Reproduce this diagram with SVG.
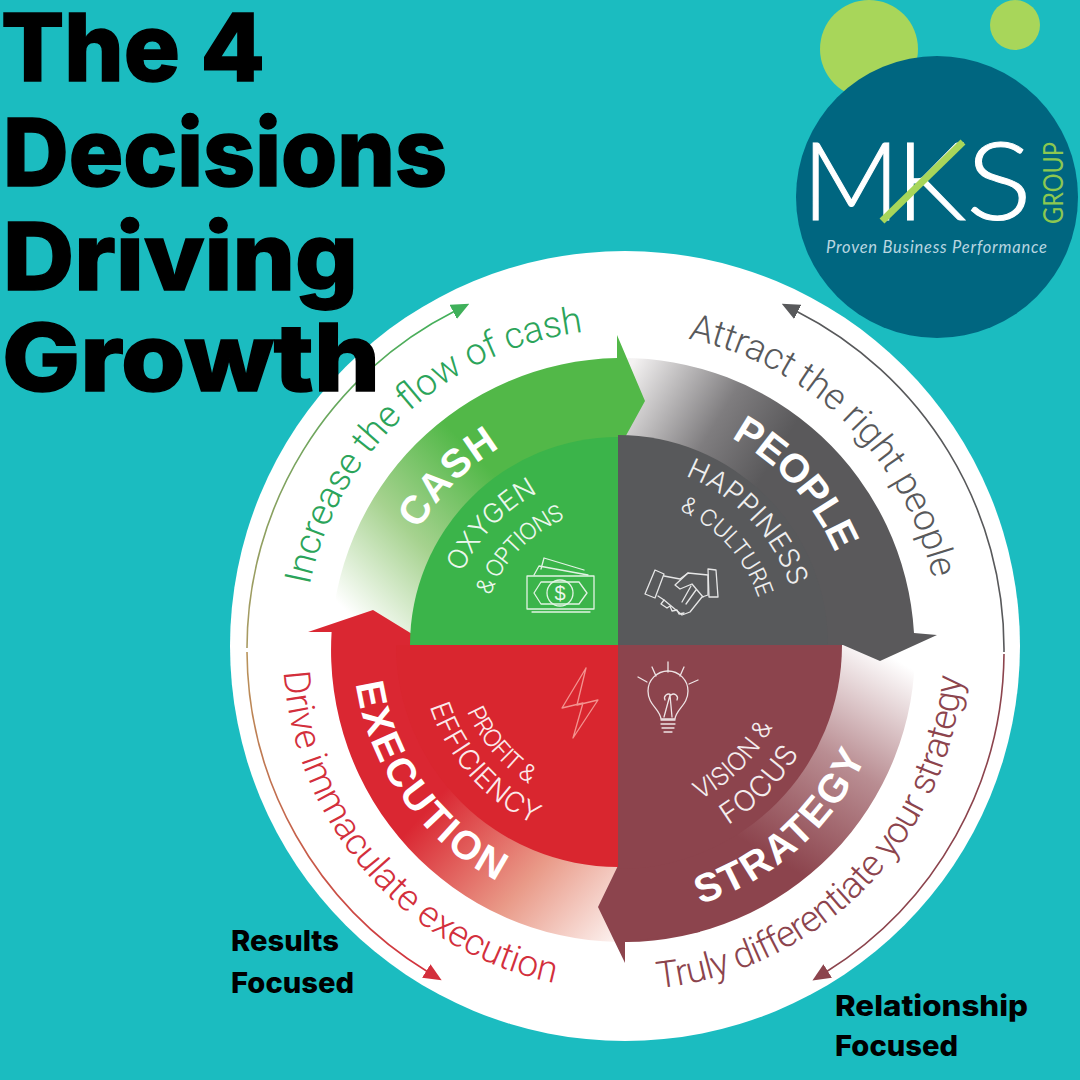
<svg xmlns="http://www.w3.org/2000/svg" width="1080" height="1080" viewBox="0 0 1080 1080">
<style>
.title{font-family:"Inter","Liberation Sans",sans-serif;font-weight:800;font-size:94px;fill:#000;stroke:#000;stroke-width:1.5}
.note{font-family:"Inter","Liberation Sans",sans-serif;font-weight:800;font-size:29px;fill:#000}
.out{font-family:"Roboto","Liberation Sans",sans-serif;font-weight:300;font-size:37px}
.head{font-family:"Liberation Sans",sans-serif;font-weight:700;font-size:40px;fill:#fff}
.sub{font-family:"Inter","Liberation Sans",sans-serif;font-weight:300;fill:#fff;opacity:.9}
.ico{fill:none;stroke:#fff;stroke-width:1.3;stroke-linecap:round;stroke-linejoin:round;opacity:.85}
.thin{fill:none;stroke-width:1.6}
.mks{font-family:"Lato","Liberation Sans",sans-serif;font-weight:300;font-size:108px;fill:#fff;stroke:#fff;stroke-width:1}
</style>
<defs>
<linearGradient id="gCash" gradientUnits="userSpaceOnUse" x1="345" y1="610" x2="490" y2="470"><stop offset="0" stop-color="#fff"/><stop offset=".5" stop-color="#a6d28f"/><stop offset="1" stop-color="#52b848"/></linearGradient>
<linearGradient id="gPeople" gradientUnits="userSpaceOnUse" x1="625" y1="375" x2="770" y2="465"><stop offset="0" stop-color="#f4f2f2"/><stop offset=".6" stop-color="#7f7d7f"/><stop offset="1" stop-color="#5a595b"/></linearGradient>
<linearGradient id="gStrategy" gradientUnits="userSpaceOnUse" x1="880" y1="650" x2="760" y2="850"><stop offset="0" stop-color="#fff"/><stop offset=".5" stop-color="#b98d92"/><stop offset="1" stop-color="#8c444d"/></linearGradient>
<linearGradient id="gExec" gradientUnits="userSpaceOnUse" x1="625" y1="955" x2="445" y2="790"><stop offset="0" stop-color="#fff"/><stop offset=".5" stop-color="#e99a88"/><stop offset="1" stop-color="#da2732"/></linearGradient>
<linearGradient id="lGreen" gradientUnits="userSpaceOnUse" x1="250" y1="640" x2="460" y2="310"><stop offset="0" stop-color="#a89a62"/><stop offset="1" stop-color="#3fb05a"/></linearGradient>
<linearGradient id="lRed" gradientUnits="userSpaceOnUse" x1="250" y1="650" x2="430" y2="975"><stop offset="0" stop-color="#b8945a"/><stop offset="1" stop-color="#d32f3c"/></linearGradient>
<marker id="mGreen" markerUnits="userSpaceOnUse" markerWidth="18" markerHeight="16" refX="2" refY="8" orient="auto"><path d="M0 0L18 8L0 16Z" fill="#3fb05a"/></marker>
<marker id="mGrey" markerUnits="userSpaceOnUse" markerWidth="18" markerHeight="16" refX="2" refY="8" orient="auto"><path d="M0 0L18 8L0 16Z" fill="#58595b"/></marker>
<marker id="mMaroon" markerUnits="userSpaceOnUse" markerWidth="18" markerHeight="16" refX="2" refY="8" orient="auto"><path d="M0 0L18 8L0 16Z" fill="#8c444d"/></marker>
<marker id="mRed" markerUnits="userSpaceOnUse" markerWidth="18" markerHeight="16" refX="2" refY="8" orient="auto"><path d="M0 0L18 8L0 16Z" fill="#d32f3c"/></marker>
<path id="pInc" d="M309.6 585.5A320 320 0 0 1 584 332"/>
<path id="pAtt" d="M687.9 338.7A318 318 0 0 1 933.1 579.8"/>
<path id="pTru" d="M658 988.2A340 340 0 0 0 962 676.7"/>
<path id="pDri" d="M283.7 671.9A340 340 0 0 0 555.2 983.2"/>
<path id="pCash" d="M418.8 530A230 230 0 0 1 501.3 446.8"/>
<path id="pOxy" d="M462 572.6A172 172 0 0 1 539.1 492.2"/>
<path id="pOpt" d="M490.1 595.9A137 137 0 0 1 566.7 518"/>
<path id="pPeo" d="M731 437.8A236 236 0 0 1 835.7 553.9"/>
<path id="pHap" d="M685.3 475.9A182 182 0 0 1 791 588.5"/>
<path id="pCul" d="M679.1 510.2A148 148 0 0 1 758.9 599.8"/>
<path id="pStr" d="M700.2 904.3A272 272 0 0 0 866.3 756"/>
<path id="pVis" d="M699.6 799.8A175 175 0 0 0 773.1 726.1"/>
<path id="pFoc" d="M727.9 825.1A211 211 0 0 0 799.4 752.7"/>
<path id="pExe" d="M355.8 683.7A265 265 0 0 0 498.5 881.5"/>
<path id="pPro" d="M466.9 711.3A165 165 0 0 0 529.6 784.3"/>
<path id="pEff" d="M429.7 706.2A198 198 0 0 0 534.6 824.6"/>
</defs>
<rect width="1080" height="1080" fill="#1bbcc0"/>
<g id="dots"><circle cx="869" cy="49" r="49" fill="#a8d65a"/><circle cx="1015" cy="25" r="25" fill="#a8d65a"/></g>
<circle id="disc" cx="625" cy="646" r="395" fill="#fff"/>

<g id="logo">
<circle cx="937" cy="197" r="141" fill="#006680"/>
<text class="mks" x="802" y="220" textLength="98" lengthAdjust="spacingAndGlyphs">M</text>
<text class="mks" x="896" y="220" textLength="70" lengthAdjust="spacingAndGlyphs">K</text>
<text class="mks" x="966" y="220" textLength="66" lengthAdjust="spacingAndGlyphs">S</text>
<path d="M882 221L963 142" stroke="#a8d65a" stroke-width="7" fill="none"/>
<text transform="translate(1063 224) rotate(-90)" font-family="Lato,'Liberation Sans',sans-serif" font-size="26" fill="#8cc850" textLength="82" lengthAdjust="spacingAndGlyphs">GROUP</text>
<text x="826" y="253" font-family="Lato,'Liberation Sans',sans-serif" font-style="italic" font-size="16.5" fill="#b9d6e0" textLength="221">Proven Business Performance</text>
</g>

<g id="connectors">
<path class="thin" stroke="url(#lGreen)" marker-end="url(#mGreen)" d="M247 648A378 378 0 0 1 455 311"/>
<path class="thin" stroke="#58595b" marker-end="url(#mGrey)" d="M1004 652A379 379 0 0 0 796 311"/>
<path class="thin" stroke="#8c444d" marker-end="url(#mMaroon)" d="M1004 654A379 379 0 0 1 826 972"/>
<path class="thin" stroke="url(#lRed)" marker-end="url(#mRed)" d="M247 652A378 378 0 0 0 428 972"/>
</g>

<g id="strategy-band"><path fill="url(#gStrategy)" d="M843 645H915A292 292 0 0 1 625 942L625 900L628 845L628 645Z"/></g>
<g id="people-band"><path fill="url(#gPeople)" d="M618 358A292 292 0 0 1 914 633L937 635L880 661L843 645H618Z"/></g>
<g id="cash-band"><path fill="url(#gCash)" d="M618 645H331A292 292 0 0 1 617 358L617 335L645 401L617 452Z"/></g>
<g id="execution-band"><path fill="url(#gExec)" d="M618 645H430L373 610L308 632H331.6A292 292 0 0 0 618 942Z"/></g>
<g id="strategy-head"><path fill="#8c444d" d="M628 845L598 907L625 963L625 942L700 932L700 845Z"/></g>

<g id="cash">
<path fill="#3bb44a" d="M618 645H410A208 208 0 0 1 618 437Z"/>
<text class="head"><textPath href="#pCash" textLength="117">CASH</textPath></text>
<text class="sub" font-size="27"><textPath href="#pOxy" textLength="112">OXYGEN</textPath></text>
<text class="sub" font-size="23"><textPath href="#pOpt" textLength="111">&amp; OPTIONS</textPath></text>
<g class="ico">
<rect x="527" y="576" width="67" height="33"/>
<path d="M534 593L541 582H579L587 593L579 604H541Z"/>
<circle cx="560" cy="593" r="13"/>
<path d="M534 575L539 566L588 575M541 569L544 558L584 570M532 612H590"/>
</g>
<text x="560" y="600" text-anchor="middle" font-family="'Liberation Sans',sans-serif" font-size="20" fill="#fff" opacity=".9">$</text>
</g>

<g id="people">
<path fill="#58595b" d="M618 645V435A210 210 0 0 1 828 645Z"/>
<text class="head"><textPath href="#pPeo" textLength="158">PEOPLE</textPath></text>
<text class="sub" font-size="28"><textPath href="#pHap" textLength="158">HAPPINESS</textPath></text>
<text class="sub" font-size="23"><textPath href="#pCul" textLength="122">&amp; CULTURE</textPath></text>
<g class="ico">
<path d="M655 570L664 574L655 598L645 594Z"/>
<path d="M708 569L716 570L718 597L709 597Z"/>
<path d="M664 576L680 579L688 573L708 575L708 595L702 597L690 612L682 615L664 600L658 596"/>
<path d="M688 573L675 585L680 589L692 584L703 597M696 590L686 604M691 586L682 602M664 600L661 604L667 608L670 606L672 611L677 610L679 614L684 613"/>
</g>
</g>

<g id="strategy">
<path fill="#8c444d" d="M618 645H842A224 224 0 0 1 618 869Z"/>
<text class="head" font-size="41"><textPath href="#pStr" textLength="228">STRATEGY</textPath></text>
<text class="sub" font-size="25"><textPath href="#pVis" textLength="105">VISION &amp;</textPath></text>
<text class="sub" font-size="29"><textPath href="#pFoc" textLength="102">FOCUS</textPath></text>
<g class="ico">
<path d="M661 719C660 709 648 705 648 691A20 20 0 0 1 688 691C688 705 676 709 675 719Z"/>
<path d="M664 717L670 695M672 717L670 695M665 700A4 4 0 0 1 671 695A4 4 0 0 1 677 700M661 720H675M661 724H675M662 728H674M664 732H672"/>
<path d="M668 662V672M652 667L656 676M684 667L680 676M638 677L647 682M698 680L689 684"/>
</g>
</g>

<g id="execution">
<path fill="#d9262f" d="M618 645H396A222 222 0 0 0 618 867Z"/>
<text class="head" font-size="42"><textPath href="#pExe" textLength="252">EXECUTION</textPath></text>
<text class="sub" font-size="24"><textPath href="#pPro" textLength="97">PROFIT &amp;</textPath></text>
<text class="sub" font-size="28"><textPath href="#pEff" textLength="162">EFFICIENCY</textPath></text>
<path class="ico" style="stroke:#f7a6a0" d="M586 668L562 708L583 703L573 738L598 700L577 705Z"/>
</g>

<g id="outer-labels">
<text class="out" fill="#2ba45a"><textPath href="#pInc" textLength="398">Increase the flow of cash</textPath></text>
<text class="out" fill="#58595b"><textPath href="#pAtt" textLength="362">Attract the right people</textPath></text>
<text class="out" fill="#8c444d"><textPath href="#pTru" textLength="472">Truly differentiate your strategy</textPath></text>
<text class="out" fill="#d32f3c"><textPath href="#pDri" textLength="443">Drive immaculate execution</textPath></text>
</g>

<g id="title">
<text class="title" x="1" y="81" textLength="264" lengthAdjust="spacingAndGlyphs">The 4</text>
<text class="title" x="3" y="186" textLength="444" lengthAdjust="spacingAndGlyphs">Decisions</text>
<text class="title" x="3" y="290" textLength="355" lengthAdjust="spacingAndGlyphs">Driving</text>
<text class="title" x="2" y="391" textLength="378" lengthAdjust="spacingAndGlyphs">Growth</text>
</g>
<g id="notes">
<text class="note" x="231" y="951" textLength="108" lengthAdjust="spacingAndGlyphs">Results</text>
<text class="note" x="231" y="993" textLength="123" lengthAdjust="spacingAndGlyphs">Focused</text>
<text class="note" x="835" y="1016" textLength="193" lengthAdjust="spacingAndGlyphs">Relationship</text>
<text class="note" x="835" y="1056" textLength="123" lengthAdjust="spacingAndGlyphs">Focused</text>
</g>
</svg>
